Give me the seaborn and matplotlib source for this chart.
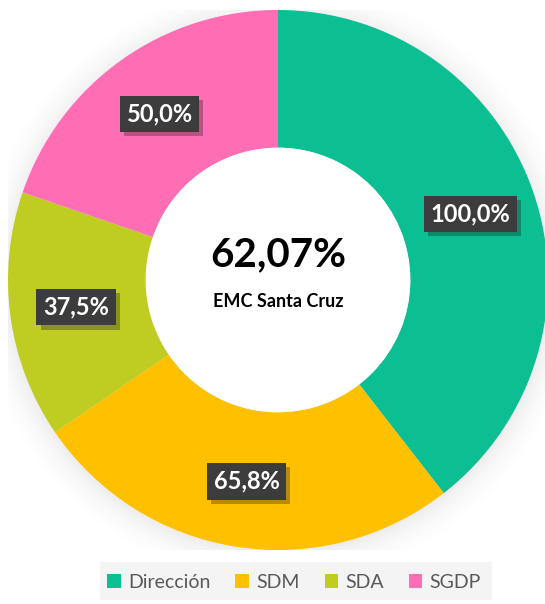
import matplotlib
matplotlib.use("Agg")
import matplotlib.pyplot as plt
import matplotlib.patheffects as pe
import seaborn as sns
import numpy as np
import pandas as pd
from matplotlib.patches import Circle, Rectangle

categories = ["Dirección", "SDM", "SDA", "SGDP"]
values = [100.0, 65.8, 37.5, 50.0]
labels = ["100,0%", "65,8%", "37,5%", "50,0%"]
center_value = "62,07%"
center_label = "EMC Santa Cruz"
colors = ["#0BBF93", "#FFC000", "#BFCC22", "#FF6EB4"]

sns.set_theme(style="white")
plt.rcParams['font.family'] = ['Lato', 'DejaVu Sans']

df = pd.DataFrame({"cat": categories, "val": values, "lab": labels})
palette = sns.color_palette(colors)

fig = plt.figure(figsize=(5.45, 6.04), dpi=100)
fig.patch.set_facecolor("white")

# legend strip background
fig.patches.append(Rectangle((100/545, 1-600/604), 392/545, 38/604, transform=fig.transFigure,
                             facecolor="#F4F4F4", edgecolor="none", zorder=0))

R = 270
cx, cy = 278, 280
ax = fig.add_axes([(cx-R)/545, 1-(cy+R)/604, 2*R/545, 2*R/604])

wedges, _ = ax.pie(df["val"], colors=palette, startangle=90, counterclock=False,
                   radius=1.0, wedgeprops=dict(width=0.51, edgecolor="none"))
for w in wedges:
    w.set_zorder(2)

# soft shadow
for i, a in enumerate(np.linspace(0.012, 0.002, 10)):
    ax.add_patch(Circle((0.0, -0.01), 1.0 + 0.012*i, facecolor="black", alpha=a, edgecolor="none", zorder=0))
ax.add_patch(Circle((0, 0), 0.49, facecolor="white", edgecolor="none", zorder=3))

ax.set_xlim(-1, 1)
ax.set_ylim(-1, 1)
ax.set_aspect("equal")
ax.axis("off")

total = df["val"].sum()
start = 90.0
rmid = 0.755
for v, lab in zip(df["val"], df["lab"]):
    ang = start - v/total*360/2
    start -= v/total*360
    x, y = rmid*np.cos(np.radians(ang)), rmid*np.sin(np.radians(ang))
    t = ax.text(x, y, lab, ha="center", va="center", fontsize=17, fontweight="bold",
                color="white", zorder=5,
                bbox=dict(boxstyle="square,pad=0.28", facecolor="#3C3C3C", edgecolor="none"))
    t.get_bbox_patch().set_path_effects([pe.withSimplePatchShadow(offset=(3, -3), alpha=0.3)])

ax.text(0, 0.095, center_value, ha="center", va="center", fontsize=29, fontweight="bold",
        color="black", zorder=6)
ax.text(0, -0.08, center_label, ha="center", va="center", fontsize=13, fontweight="bold",
        color="black", zorder=6)

handles = [Rectangle((0, 0), 1, 1, facecolor=c, edgecolor="none") for c in palette]
leg = fig.legend(handles, categories, loc="center", bbox_to_anchor=(294/545, 1-582/604),
                 ncol=4, frameon=False, fontsize=14, handlelength=0.7, handleheight=0.7,
                 handletextpad=0.35, columnspacing=1.3)
for t in leg.get_texts():
    t.set_color("#595959")

fig.savefig("out.png", dpi=100, facecolor="white")
